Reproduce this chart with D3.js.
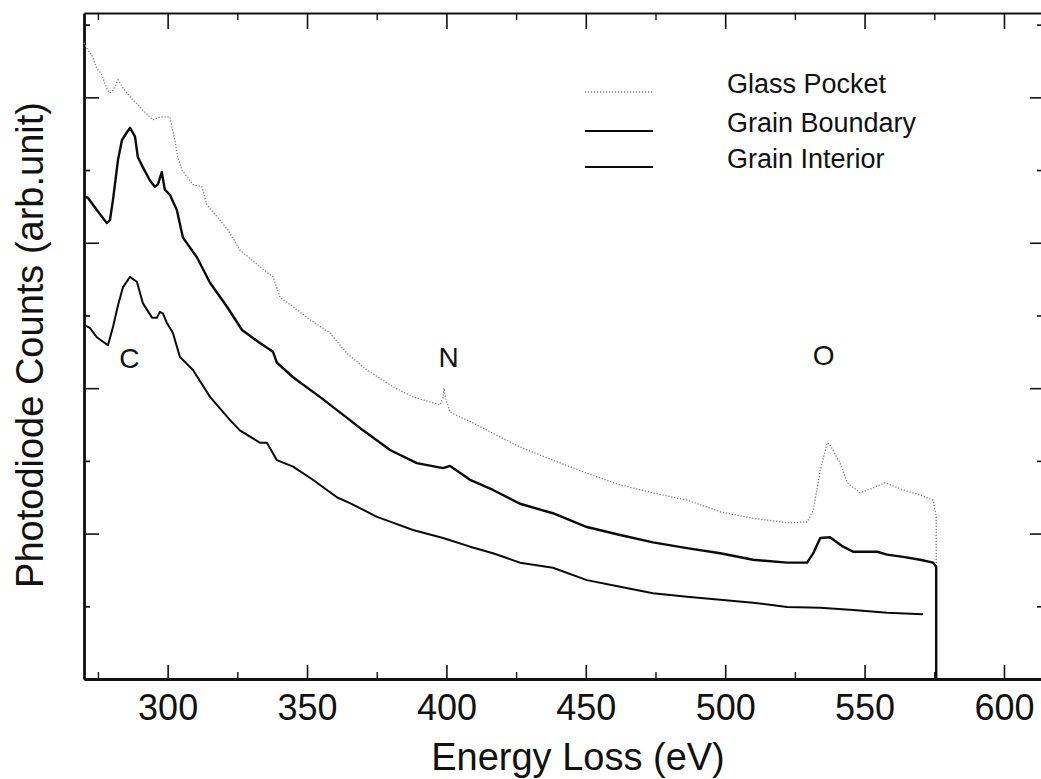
<!DOCTYPE html>
<html>
<head>
<meta charset="utf-8">
<script src="https://cdn.jsdelivr.net/npm/d3@7"></script>
<style>
  html, body { margin: 0; padding: 0; background: #fff; }
  svg { display: block; }
  text { font-family: "Liberation Sans", Arial, Helvetica, sans-serif; fill: #111; }
</style>
</head>
<body>
<script>
// ---------- DATA ----------
const seriesNames = ["Glass Pocket", "Grain Boundary", "Grain Interior"];

const glassEnergy = [270.0,270.7,272.8,274.6,276.4,278.2,279.3,280.4,282.2,284.0,285.4,287.6,290.1,291.1,294.7,297.2,299.7,300.8,302.6,303.7,305.1,309.1,312.3,314.1,317.7,321.6,325.9,333.1,337.8,340.3,345.0,351.1,358.2,364.3,371.5,380.8,388.0,397.7,398.8,399.1,399.9,401.3,409.6,416.7,426.4,438.2,450.4,462.3,474.1,486.3,498.2,510.0,522.2,529.4,531.6,534.1,536.6,537.6,541.2,543.8,548.4,553.1,557.4,563.8,569.9,574.6,575.7,575.7];
const glassPocket = [8.75,8.69,8.58,8.40,8.31,8.12,8.06,8.10,8.24,8.13,8.06,7.96,7.87,7.82,7.69,7.73,7.73,7.73,7.41,7.17,7.00,6.80,6.77,6.52,6.36,6.18,5.90,5.67,5.53,5.25,5.12,4.94,4.76,4.48,4.25,4.02,3.88,3.77,3.87,4.00,3.84,3.67,3.52,3.38,3.19,3.01,2.83,2.67,2.56,2.46,2.30,2.21,2.15,2.16,2.32,2.87,3.25,3.22,2.97,2.70,2.56,2.63,2.70,2.60,2.53,2.46,2.23,0];

const boundaryEnergy = [270.0,271.4,274.6,278.2,279.3,280.4,282.2,283.6,285.4,286.5,288.3,289.3,291.1,293.6,295.4,296.5,297.9,299.0,300.8,303.3,305.5,310.5,315.2,321.3,326.7,333.1,337.8,339.2,345.0,354.6,365.4,370.1,379.8,389.4,398.8,401.3,408.5,416.7,426.4,438.2,450.4,462.3,474.1,486.3,498.2,510.0,522.2,529.4,531.6,534.1,537.6,542.3,545.9,554.5,558.1,563.8,569.9,574.6,575.7,575.7];
const grainBoundary = [6.63,6.62,6.45,6.27,6.31,6.59,7.14,7.41,7.52,7.58,7.46,7.18,7.04,6.86,6.77,6.80,6.97,6.73,6.66,6.45,6.07,5.80,5.45,5.12,4.80,4.62,4.50,4.35,4.15,3.88,3.56,3.42,3.15,2.97,2.90,2.93,2.74,2.60,2.41,2.28,2.09,1.98,1.88,1.80,1.73,1.64,1.60,1.60,1.73,1.94,1.95,1.82,1.75,1.75,1.71,1.68,1.64,1.60,1.54,0];

const interiorEnergy = [270.0,272.1,274.6,278.6,280.4,282.2,284.0,286.5,289.0,291.1,294.4,296.2,297.2,298.3,299.7,301.9,304.4,309.1,315.2,322.4,325.9,333.1,335.6,339.2,345.0,352.1,360.7,365.4,375.1,380.8,388.0,398.8,408.5,416.7,426.4,438.2,450.4,462.3,474.1,486.3,498.2,510.0,522.2,534.1,545.9,558.1,571.0];
const grainInterior = [4.87,4.83,4.70,4.59,4.84,5.14,5.39,5.53,5.46,5.17,4.97,4.97,5.05,5.03,4.90,4.76,4.43,4.25,3.88,3.56,3.42,3.25,3.25,3.01,2.92,2.74,2.50,2.42,2.23,2.15,2.05,1.94,1.82,1.73,1.60,1.53,1.36,1.27,1.18,1.13,1.09,1.05,0.99,0.98,0.95,0.91,0.89];

const xMajorTicks = [300, 350, 400, 450, 500, 550, 600];
const xMinorTicks = [275, 325, 375, 425, 475, 525, 575];
const yMajorTicks = [0, 2, 4, 6, 8];
const yMinorTicks = [1, 3, 5, 7, 9];

const edgeLabels = ["C", "N", "O"];
const edgeLabelEnergy = [286.3, 400.8, 535.3];
const edgeLabelValue = [4.28, 4.29, 4.32];

const xTitle = "Energy Loss (eV)";
const yTitle = "Photodiode Counts (arb.unit)";

// ---------- LAYOUT ----------
const W = 1041, H = 779;
const pL = 84, pR = 1042, pT = 13, pB = 679;

const svg = d3.select("body").append("svg").attr("width", W).attr("height", H);

const x = d3.scaleLinear().domain([270, 614]).range([pL, pR + 1]);
const y = d3.scaleLinear().domain([0, 9.16]).range([pB, pT]);

// ---------- AXES ----------
function styleAxis(g, w) {
  g.select(".domain").attr("stroke", "#111").attr("stroke-width", w);
  g.selectAll(".tick line").attr("stroke", "#111").attr("stroke-width", 1.6);
}

// bottom
const gB = svg.append("g").attr("transform", `translate(0,${pB})`)
  .call(d3.axisBottom(x).tickValues(xMajorTicks).tickSize(-14).tickSizeOuter(0).tickPadding(15).tickFormat(d3.format("d")));
styleAxis(gB, 3);
gB.selectAll("text").attr("font-size", 36).attr("font-family", "Liberation Sans, Arial, sans-serif").attr("fill", "#111");
const gBm = svg.append("g").attr("transform", `translate(0,${pB})`)
  .call(d3.axisBottom(x).tickValues(xMinorTicks).tickSize(-7).tickSizeOuter(0).tickFormat(""));
gBm.select(".domain").remove();
gBm.selectAll(".tick line").attr("stroke", "#111").attr("stroke-width", 1.4);

// top
const gT = svg.append("g").attr("transform", `translate(0,${pT})`)
  .call(d3.axisTop(x).tickValues(xMajorTicks).tickSize(-16).tickSizeOuter(0).tickFormat(""));
styleAxis(gT, 2.2);
const gTm = svg.append("g").attr("transform", `translate(0,${pT})`)
  .call(d3.axisTop(x).tickValues(xMinorTicks).tickSize(-7).tickSizeOuter(0).tickFormat(""));
gTm.select(".domain").remove();
gTm.selectAll(".tick line").attr("stroke", "#111").attr("stroke-width", 1.4);

// left
const gL = svg.append("g").attr("transform", `translate(${pL},0)`)
  .call(d3.axisLeft(y).tickValues(yMajorTicks).tickSize(-15).tickSizeOuter(0).tickFormat(""));
styleAxis(gL, 2.8);
const gLm = svg.append("g").attr("transform", `translate(${pL},0)`)
  .call(d3.axisLeft(y).tickValues(yMinorTicks).tickSize(-6).tickSizeOuter(0).tickFormat(""));
gLm.select(".domain").remove();
gLm.selectAll(".tick line").attr("stroke", "#111").attr("stroke-width", 1.8);

// right
const gR = svg.append("g").attr("transform", `translate(${pR},0)`)
  .call(d3.axisRight(y).tickValues(yMajorTicks).tickSize(-12).tickSizeOuter(0).tickFormat(""));
styleAxis(gR, 2);
const gRm = svg.append("g").attr("transform", `translate(${pR},0)`)
  .call(d3.axisRight(y).tickValues(yMinorTicks).tickSize(-5).tickSizeOuter(0).tickFormat(""));
gRm.select(".domain").remove();
gRm.selectAll(".tick line").attr("stroke", "#111").attr("stroke-width", 1.6);

// ---------- CURVES ----------
const line = d3.line().x(d => x(d[0])).y(d => y(d[1]));
const glassData = glassEnergy.map((e, i) => [e, glassPocket[i]]);
const boundaryData = boundaryEnergy.map((e, i) => [e, grainBoundary[i]]);
const interiorData = interiorEnergy.map((e, i) => [e, grainInterior[i]]);

const styles = [
  { stroke: "#777777", width: 1.3, dash: "1.2,1.8" },
  { stroke: "#0a0a0a", width: 2.4, dash: null },
  { stroke: "#0a0a0a", width: 2.0, dash: null }
];

svg.append("path").datum(glassData).attr("d", line).attr("fill", "none")
  .attr("stroke", styles[0].stroke).attr("stroke-width", styles[0].width).attr("stroke-dasharray", styles[0].dash);
svg.append("path").datum(interiorData).attr("d", line).attr("fill", "none")
  .attr("stroke", styles[2].stroke).attr("stroke-width", styles[2].width).attr("stroke-linejoin", "round");
svg.append("path").datum(boundaryData).attr("d", line).attr("fill", "none")
  .attr("stroke", styles[1].stroke).attr("stroke-width", styles[1].width).attr("stroke-linejoin", "round");

// ---------- EDGE LABELS ----------
svg.selectAll(".edge").data(edgeLabels).enter().append("text")
  .attr("class", "edge")
  .attr("x", (d, i) => x(edgeLabelEnergy[i]))
  .attr("y", (d, i) => y(edgeLabelValue[i]))
  .attr("text-anchor", "middle").attr("font-size", 28)
  .text(d => d);

// ---------- LEGEND ----------
const legY = [92, 131, 167];
const leg = svg.append("g");
seriesNames.forEach((name, i) => {
  leg.append("line").attr("x1", 585).attr("x2", 653).attr("y1", legY[i]).attr("y2", legY[i])
    .attr("stroke", styles[i].stroke).attr("stroke-width", i === 0 ? 1.3 : 2)
    .attr("stroke-dasharray", styles[i].dash);
  leg.append("text").attr("x", 727).attr("y", legY[i] + 1).attr("font-size", 27).text(name);
});

// ---------- TITLES ----------
svg.append("text").attr("x", 578).attr("y", 770).attr("text-anchor", "middle")
  .attr("font-size", 38).text(xTitle);
svg.append("text").attr("transform", "translate(43,345) rotate(-90)").attr("text-anchor", "middle")
  .attr("font-size", 38).text(yTitle);
</script>
</body>
</html>
